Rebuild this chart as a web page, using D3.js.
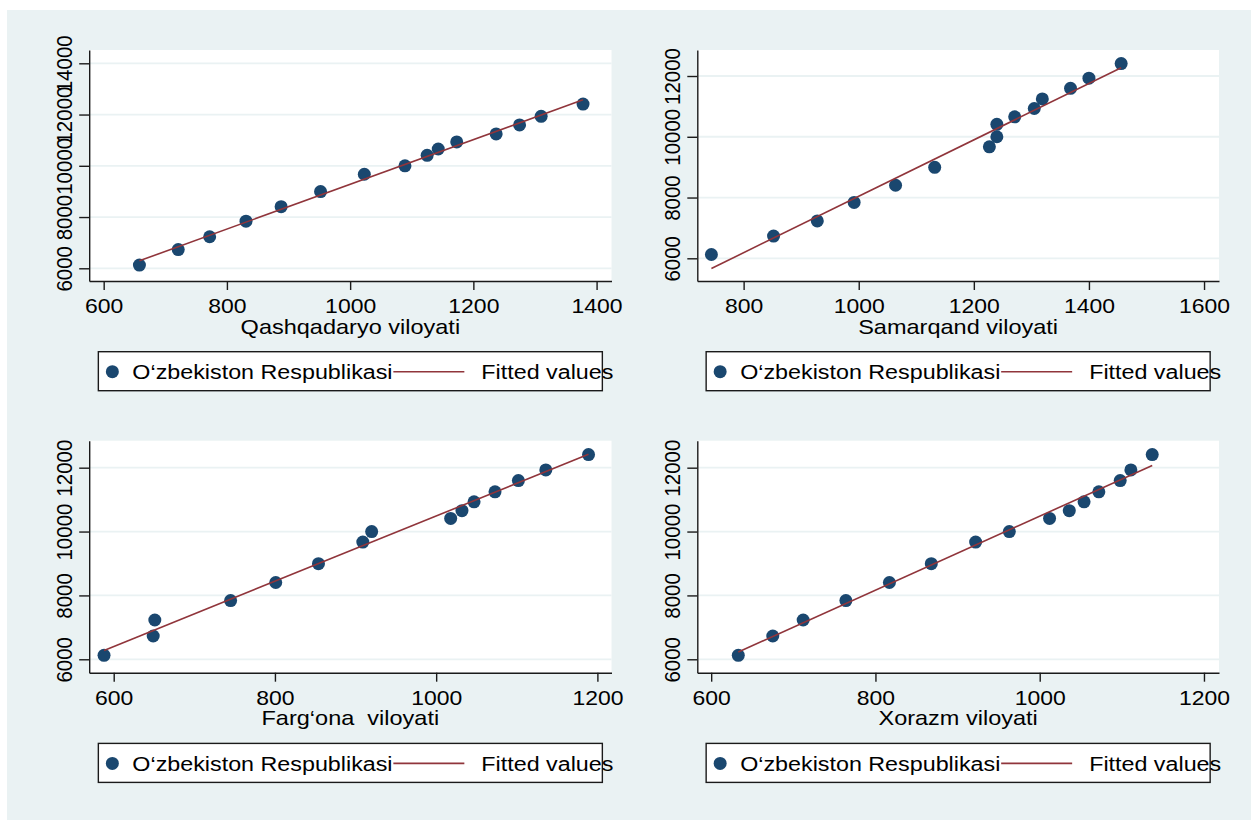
<!DOCTYPE html>
<html>
<head>
<meta charset="utf-8">
<script src="https://cdn.jsdelivr.net/npm/d3@7"></script>
<style>
  html, body { margin: 0; padding: 0; background: #fff; }
  svg { display: block; font-family: "Liberation Sans", Arial, sans-serif; }
</style>
</head>
<body>
<div id="chart"></div>
<script>
// O‘zbekiston Respublikasi values, shared by every panel (y axis)
const yRespublika = [6125, 6730, 7230, 7840, 8405, 8995, 9670, 10000, 10410, 10655, 10930, 11245, 11595, 11930, 12410];

// regional values (x axis), same order as yRespublika
const xQashqadaryo = [658, 721, 772, 831, 888, 952, 1023, 1089, 1125, 1143, 1173, 1237, 1275, 1310, 1378];
const xSamarqand = [744, 852, 928, 992, 1064, 1132, 1227, 1240, 1240, 1271, 1305, 1319, 1368, 1400, 1456];
const xFargona = [588, 649, 651, 745, 801, 854, 909, 920, 1018, 1032, 1047, 1073, 1102, 1136, 1189];
const xXorazm = [633, 675, 712, 764, 817, 868, 922, 963, 1012, 1036, 1054, 1072, 1098, 1111, 1137];

const panelTitles = ["Qashqadaryo viloyati", "Samarqand viloyati", "Farg‘ona  viloyati", "Xorazm viloyati"];
const legendLabels = ["O‘zbekiston Respublikasi", "Fitted values"];

const xTicks1 = [600, 800, 1000, 1200, 1400];
const xTicks2 = [800, 1000, 1200, 1400, 1600];
const xTicks3 = [600, 800, 1000, 1200];
const xTicks4 = [600, 800, 1000, 1200];
const yTicks1 = [6000, 8000, 10000, 12000, 14000];
const yTicks2 = [6000, 8000, 10000, 12000];

const W = 1251, H = 820;
const stretch = 1.12;   // text in the source looks a bit wide
const markerColor = "#1a476f";
const lineColor = "#90353b";
const bgColor = "#eaf2f3";

const panels = [
    { title: panelTitles[0], xs: xQashqadaryo, xTicks: xTicks1, yTicks: yTicks1,
      left: 89.2, right: 611.5, top: 50, bottom: 281, xDomain: [576.5, 1424.2], yDomain: [5504, 14519] },
    { title: panelTitles[1], xs: xSamarqand, xTicks: xTicks2, yTicks: yTicks2,
      left: 697.3, right: 1219, top: 50, bottom: 281, xDomain: [719.5, 1626], yDomain: [5253, 12856] },
    { title: panelTitles[2], xs: xFargona, xTicks: xTicks3, yTicks: yTicks2,
      left: 89.2, right: 611.5, top: 440.7, bottom: 672.7, xDomain: [569.6, 1217.5], yDomain: [5580, 12845] },
    { title: panelTitles[3], xs: xXorazm, xTicks: xTicks4, yTicks: yTicks2,
      left: 697.3, right: 1219, top: 440.7, bottom: 672.7, xDomain: [583.1, 1218.3], yDomain: [5580, 12845] }
];

const svg = d3.select("#chart")
    .append("svg")
    .attr("width", W)
    .attr("height", H);

svg.append("rect")
    .attr("x", 7)
    .attr("y", 10)
    .attr("width", W - 7)
    .attr("height", H - 10)
    .attr("fill", bgColor);

// simple least squares fit
function fit(xs, ys) {
    const mx = d3.mean(xs), my = d3.mean(ys);
    const sxy = d3.sum(xs, (x, i) => (x - mx) * (ys[i] - my));
    const sxx = d3.sum(xs, x => (x - mx) * (x - mx));
    const b = sxy / sxx;
    const a = my - b * mx;
    const [x0, x1] = d3.extent(xs);
    return [[x0, a + b * x0], [x1, a + b * x1]];
}

function drawPanel(p) {
    const g = svg.append("g");

    const x = d3.scaleLinear().domain(p.xDomain).range([p.left, p.right]);
    const y = d3.scaleLinear().domain(p.yDomain).range([p.bottom, p.top]);

    g.append("rect")
        .attr("x", p.left)
        .attr("y", p.top)
        .attr("width", p.right - p.left)
        .attr("height", p.bottom - p.top)
        .attr("fill", "#fff");

    // grid
    g.append("g")
        .selectAll("line")
        .data(p.yTicks)
        .join("line")
        .attr("x1", p.left)
        .attr("x2", p.right)
        .attr("y1", d => y(d))
        .attr("y2", d => y(d))
        .attr("stroke", bgColor)
        .attr("stroke-width", 1.8);

    // axes
    const xAxis = g.append("g")
        .attr("transform", `translate(0,${p.bottom})`)
        .call(d3.axisBottom(x).tickValues(p.xTicks).tickSize(9).tickSizeOuter(0).tickFormat(d3.format("d")));

    xAxis.selectAll("text")
        .attr("y", null)
        .attr("dy", null)
        .attr("transform", `translate(0,32) scale(${stretch},1)`)
        .attr("text-anchor", "middle")
        .attr("font-size", 20.5)
        .attr("fill", "#000");

    const yAxis = g.append("g")
        .attr("transform", `translate(${p.left},0)`)
        .call(d3.axisLeft(y).tickValues(p.yTicks).tickSize(10).tickSizeOuter(0).tickFormat(d3.format("d")));

    yAxis.selectAll("text")
        .attr("x", null)
        .attr("dy", null)
        .attr("transform", `translate(-17,0) scale(${stretch},1) rotate(-90)`)
        .attr("text-anchor", "middle")
        .attr("font-size", 20.5)
        .attr("fill", "#000");

    g.selectAll(".domain, .tick line")
        .attr("stroke", "#1a1a1a")
        .attr("stroke-width", 1.4);

    // points
    g.append("g")
        .selectAll("circle")
        .data(p.xs.map((d, i) => [d, yRespublika[i]]))
        .join("circle")
        .attr("cx", d => x(d[0]))
        .attr("cy", d => y(d[1]))
        .attr("r", 6.5)
        .attr("fill", markerColor);

    // fitted line, drawn over the markers
    const pts = fit(p.xs, yRespublika);
    g.append("line")
        .attr("x1", x(pts[0][0]))
        .attr("y1", y(pts[0][1]))
        .attr("x2", x(pts[1][0]))
        .attr("y2", y(pts[1][1]))
        .attr("stroke", lineColor)
        .attr("stroke-width", 1.6);

    const cx = (p.left + p.right) / 2;

    g.append("text")
        .attr("transform", `translate(${cx},${p.bottom + 52.5}) scale(${stretch},1)`)
        .attr("text-anchor", "middle")
        .attr("font-size", 21)
        .attr("fill", "#000")
        .style("white-space", "pre")
        .text(p.title);

    // legend
    const lx = cx - 252, ly = p.bottom + 70.7;
    const legend = g.append("g").attr("transform", `translate(${lx},${ly})`);

    legend.append("rect")
        .attr("width", 504)
        .attr("height", 39)
        .attr("fill", "#fff")
        .attr("stroke", "#1a1a1a")
        .attr("stroke-width", 1.4);

    legend.append("circle")
        .attr("cx", 14)
        .attr("cy", 20)
        .attr("r", 6.5)
        .attr("fill", markerColor);

    legend.append("text")
        .attr("transform", `translate(34,27.5) scale(${stretch},1)`)
        .attr("font-size", 20.8)
        .attr("fill", "#000")
        .text(legendLabels[0]);

    legend.append("line")
        .attr("x1", 295)
        .attr("x2", 366)
        .attr("y1", 20)
        .attr("y2", 20)
        .attr("stroke", lineColor)
        .attr("stroke-width", 1.6);

    legend.append("text")
        .attr("transform", `translate(383,27.5) scale(${stretch},1)`)
        .attr("font-size", 20.8)
        .attr("fill", "#000")
        .text(legendLabels[1]);
}

panels.forEach(drawPanel);
</script>
</body>
</html>
